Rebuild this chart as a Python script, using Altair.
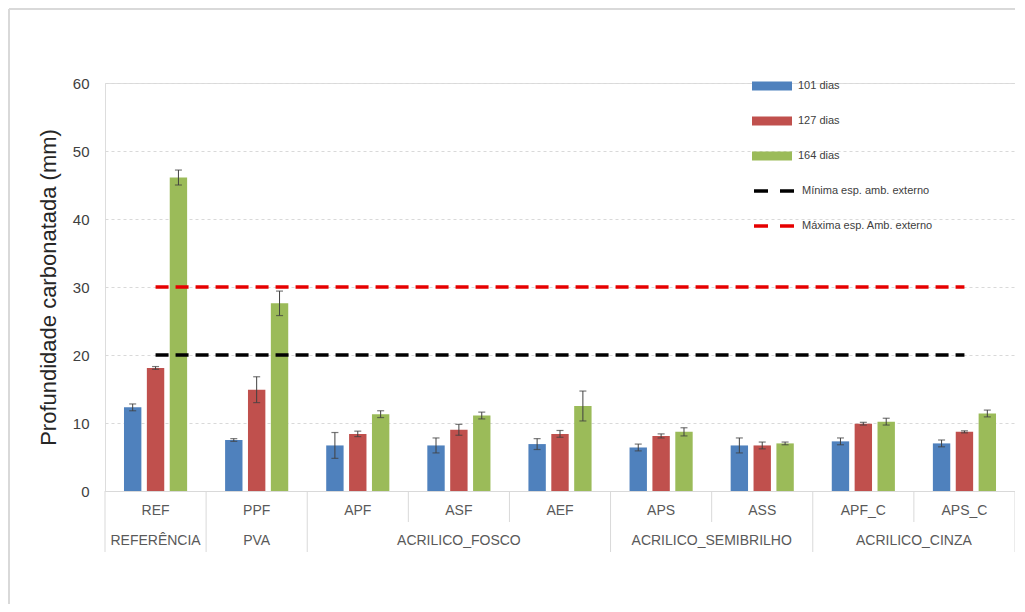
import altair as alt
import pandas as pd

cats = ["REF", "PPF", "APF", "ASF", "AEF", "APS", "ASS", "APF_C", "APS_C"]
series = ["101 dias", "127 dias", "164 dias"]
d101 = [12.3, 7.5, 6.7, 6.7, 6.9, 6.4, 6.7, 7.3, 7.0]
e101 = [0.5, 0.2, 1.9, 1.1, 0.8, 0.5, 1.1, 0.5, 0.5]
d127 = [18.1, 14.9, 8.4, 9.0, 8.4, 8.1, 6.7, 9.9, 8.7]
e127 = [0.2, 1.9, 0.4, 0.8, 0.5, 0.3, 0.5, 0.2, 0.15]
d164 = [46.1, 27.6, 11.3, 11.1, 12.5, 8.7, 7.0, 10.2, 11.4]
e164 = [1.1, 1.8, 0.5, 0.5, 2.2, 0.6, 0.2, 0.5, 0.5]
bar_colors = ["#4f81bd", "#c0504d", "#9bbb59"]

lines = ["Mínima esp. amb. externo", "Máxima esp. Amb. externo"]
line_vals = [20, 30]
line_colors = ["#000000", "#e60000"]
line_span = ["REF", "APS_C"]

groups_odd = ["REFERÊNCIA", "PVA", "ACRILICO_FOSCO"]
groups_odd_at = ["REF", "PPF", "ASF"]
groups_even = ["ACRILICO_SEMIBRILHO", "ACRILICO_CINZA"]
groups_even_at = ["APS", "APF_C"]
short_div = ["ASF", "AEF", "ASS", "APS_C"]
long_div = ["REF", "PPF", "APF", "APS", "APF_C"]
last_div = ["APS_C"]

rows = []
for s, vals, errs in zip(series, [d101, d127, d164], [e101, e127, e164]):
    for c, v, e in zip(cats, vals, errs):
        rows.append({"cat": c, "serie": s, "val": v, "lo": v - e, "hi": v + e})
df = pd.DataFrame(rows)

lrows = []
for name, v in zip(lines, line_vals):
    for c in line_span:
        lrows.append({"cat": c, "linha": name, "val": v})
ldf = pd.DataFrame(lrows)

FONT = "Liberation Sans"
GRID = "#d9d9d9"
W, H = 910, 408

xscale = alt.Scale(domain=cats, paddingInner=0, paddingOuter=0)
xaxis = alt.Axis(title=None, labelAngle=0, labelFontSize=14, labelColor="#595959",
                 labelFont=FONT, labelPadding=12, ticks=False, domainColor=GRID,
                 domainWidth=1, grid=False)
yscale = alt.Scale(domain=[0, 60], nice=False)
yaxis = alt.Axis(title="Profundidade carbonatada (mm)", values=[0, 10, 20, 30, 40, 50, 60],
                 labelFontSize=15, labelColor="#404040", labelFont=FONT, labelPadding=16,
                 titleFontSize=22, titleFont=FONT, titleFontWeight="normal",
                 titleColor="#262626", titlePadding=12, domain=False, ticks=False,
                 grid=True, gridColor=GRID, gridDash=[3, 3], gridWidth=1)

xoff = alt.XOffset("serie:N", sort=series,
                   scale=alt.Scale(domain=series, paddingInner=0.24, paddingOuter=0.83))

bars = alt.Chart(df).mark_bar().encode(
    x=alt.X("cat:N", sort=cats, scale=xscale, axis=xaxis),
    xOffset=xoff,
    y=alt.Y("val:Q", scale=yscale, axis=yaxis),
    color=alt.Color("serie:N", sort=series,
                    scale=alt.Scale(domain=series, range=bar_colors),
                    legend=alt.Legend(title=None, orient="none", legendX=647, legendY=-17,
                                      symbolType="M-1,-0.22H1V0.22H-1Z", symbolSize=1600,
                                      symbolStrokeWidth=0, labelFontSize=11,
                                      labelFont=FONT, labelColor="#404040",
                                      labelOffset=6, rowPadding=10, padding=0)),
)

err = alt.Chart(df).mark_rule(color="#404040", strokeWidth=1).encode(
    x=alt.X("cat:N", sort=cats, scale=xscale), xOffset=xoff,
    y=alt.Y("lo:Q", scale=yscale), y2="hi:Q")
cap_lo = alt.Chart(df).mark_tick(color="#404040", size=7, thickness=1.2).encode(
    x=alt.X("cat:N", sort=cats, scale=xscale), xOffset=xoff, y=alt.Y("lo:Q", scale=yscale))
cap_hi = alt.Chart(df).mark_tick(color="#404040", size=7, thickness=1.2).encode(
    x=alt.X("cat:N", sort=cats, scale=xscale), xOffset=xoff, y=alt.Y("hi:Q", scale=yscale))

reflines = alt.Chart(ldf).mark_line(strokeWidth=3.5, strokeDash=[13, 7]).encode(
    x=alt.X("cat:N", sort=cats, scale=xscale),
    y=alt.Y("val:Q", scale=yscale),
    color=alt.Color("linha:N", sort=lines,
                    scale=alt.Scale(domain=lines, range=line_colors),
                    legend=alt.Legend(title=None, orient="none", legendX=647, legendY=86,
                                      symbolType="stroke", symbolSize=1600,
                                      symbolStrokeWidth=3.5, symbolDash=[14, 12],
                                      labelFontSize=11, labelFont=FONT,
                                      labelColor="#404040", labelOffset=6,
                                      rowPadding=6, padding=0)),
)

short_rules = alt.Chart(pd.DataFrame({"cat": short_div})).mark_rule(color=GRID).encode(
    x=alt.X("cat:N", sort=cats, scale=xscale, bandPosition=0),
    y=alt.value(H), y2=alt.value(H + 31))
long_rules = alt.Chart(pd.DataFrame({"cat": long_div})).mark_rule(color=GRID).encode(
    x=alt.X("cat:N", sort=cats, scale=xscale, bandPosition=0),
    y=alt.value(H), y2=alt.value(H + 61))
end_rule = alt.Chart(pd.DataFrame({"cat": last_div})).mark_rule(color=GRID).encode(
    x=alt.X("cat:N", sort=cats, scale=xscale, bandPosition=1),
    y=alt.value(H), y2=alt.value(H + 61))

g_odd = alt.Chart(pd.DataFrame({"cat": groups_odd_at, "g": groups_odd})).mark_text(
    font=FONT, fontSize=14, color="#595959", baseline="middle").encode(
    x=alt.X("cat:N", sort=cats, scale=xscale, bandPosition=0.5),
    y=alt.value(H + 50), text="g:N")
g_even = alt.Chart(pd.DataFrame({"cat": groups_even_at, "g": groups_even})).mark_text(
    font=FONT, fontSize=14, color="#595959", baseline="middle").encode(
    x=alt.X("cat:N", sort=cats, scale=xscale, bandPosition=1),
    y=alt.value(H + 50), text="g:N")

# light chart-area frame (top and left edges)
frame_top = alt.Chart(pd.DataFrame({"k": [0]})).mark_rule(color=GRID, strokeWidth=2).encode(
    x=alt.value(-96), x2=alt.value(W), y=alt.value(-74))
frame_left = alt.Chart(pd.DataFrame({"k": [0]})).mark_rule(color=GRID, strokeWidth=2).encode(
    x=alt.value(-96), y=alt.value(-74), y2=alt.value(H + 113))

chart = alt.layer(
    frame_top, frame_left, bars, err, cap_lo, cap_hi, short_rules, long_rules, end_rule,
    g_odd, g_even, reflines
).resolve_scale(color="independent").properties(
    width=W, height=H, autosize="none",
    padding={"left": 97, "top": 75, "right": 0, "bottom": 113},
).configure_view(stroke=None).configure(background="white")

chart.save("out.html", embed_options={"renderer": "svg", "actions": False})
